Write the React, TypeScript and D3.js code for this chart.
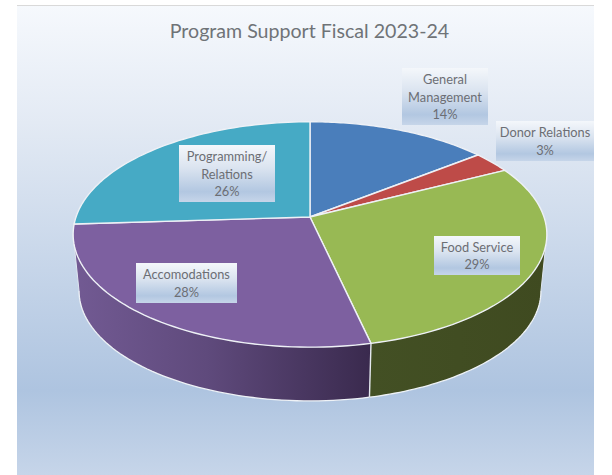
import React from "react";
import * as d3 from "d3";

const categories = ["General Management", "Donor Relations", "Food Service", "Accomodations", "Programming/ Relations"];
const shares = [14.4, 3.1, 28.95, 27.55, 26];
const faceColors = ["#4a7ebb", "#be4b48", "#98b954", "#7d60a0", "#46aac5"];
const labelLines = [["General", "Management"], ["Donor Relations"], ["Food Service"], ["Accomodations"], ["Programming/", "Relations"]];
const labelBoxes = [
  { x: 402, y: 68, w: 86, h: 57 },
  { x: 496, y: 121, w: 98, h: 40 },
  { x: 434, y: 236, w: 86, h: 39 },
  { x: 136, y: 263, w: 101, h: 40 },
  { x: 179, y: 145, w: 96, h: 57 },
];
const title = "Program Support Fiscal 2023-24";

const W = 612, H = 475;
const cx = 310, cy = 217, rx = 234, ry = 110, k = 0.155;
const depthDrop = 57, depthScale = 0.975;
const font = "Lato, 'Open Sans', sans-serif";

type P = [number, number];
const project = (a: number, bottom = false): P => {
  const s = 1 / (1 + k * Math.cos(a));
  const f = bottom ? depthScale : 1;
  return [cx + rx * Math.sin(a) * s * f, cy - ry * Math.cos(a) * s * f + (bottom ? depthDrop : 0)];
};
const arcPts = (a0: number, a1: number, bottom = false): P[] =>
  d3.range(0, 61).map((i) => project(a0 + ((a1 - a0) * i) / 60, bottom));
const line = d3.line<P>();

const arcs = d3.pie<number>().sort(null)(shares);
const pct = d3.format(".0%");
const total = d3.sum(shares);

// the points where the side wall's silhouette leaves the top face
const tangent = Math.acos(-k);
const frontStart = tangent;
const frontEnd = 2 * Math.PI - tangent;
const wallSlices = [2, 3];

export default function App() {
  return (
    <svg width={W} height={H} style={{ position: "absolute", left: 0, top: 0, display: "block" }}>
      <defs>
        <linearGradient id="bg" x1="0" y1="0" x2="0" y2="1">
          <stop offset="0" stopColor="#f6f9fd" />
          <stop offset="0.25" stopColor="#e3eaf4" />
          <stop offset="0.82" stopColor="#aec4e0" />
          <stop offset="1" stopColor="#c6d5e9" />
        </linearGradient>
        <linearGradient id="lab" x1="0" y1="0" x2="0" y2="1">
          <stop offset="0" stopColor="#f4f7fb" />
          <stop offset="0.4" stopColor="#dbe4f0" />
          <stop offset="0.82" stopColor="#b2c7e1" />
          <stop offset="1" stopColor="#c6d5e9" />
        </linearGradient>
        <linearGradient id="wallPurple" gradientUnits="userSpaceOnUse" x1="74" y1="0" x2="370" y2="0">
          <stop offset="0" stopColor="#725a93" />
          <stop offset="0.45" stopColor="#5f4a7c" />
          <stop offset="1" stopColor="#3a2a4e" />
        </linearGradient>
        <linearGradient id="wallGreen" gradientUnits="userSpaceOnUse" x1="370" y1="0" x2="547" y2="0">
          <stop offset="0" stopColor="#435024" />
          <stop offset="1" stopColor="#3f4a20" />
        </linearGradient>
      </defs>

      <rect x={17} y={5} width={577} height={470} fill="url(#bg)" />
      <line x1={17} x2={594} y1={5.5} y2={5.5} stroke="#d9d9d9" />
      <text x={309.5} y={38} textAnchor="middle" fontFamily={font} fontSize={19.6} fill="#6f7377">{title}</text>

      {wallSlices.map((i) => {
        const d = arcs[i];
        const a0 = Math.max(d.startAngle, frontStart);
        const a1 = Math.min(d.endAngle, frontEnd);
        const bot = arcPts(a0, a1, true);
        const fill = i === 2 ? "url(#wallGreen)" : "url(#wallPurple)";
        return (
          <g key={`w${i}`}>
            <path d={line([...arcPts(a0, a1), ...[...bot].reverse()])! + "Z"} fill={fill} />
            <path d={line(bot)!} fill="none" stroke="#eef2f6" strokeWidth={1.3} />
          </g>
        );
      })}
      {[arcs[3].startAngle, frontStart, frontEnd].map((a, i) => (
        <path
          key={i}
          d={line([project(a), project(a, true)])!}
          stroke={i === 0 ? "#e4e8ee" : "#dfe6f0"}
          strokeWidth={i === 0 ? 1.4 : 1}
          fill="none"
        />
      ))}

      {arcs.map((d, i) => (
        <path
          key={`f${i}`}
          d={line([[cx, cy], ...arcPts(d.startAngle, d.endAngle)])! + "Z"}
          fill={faceColors[i]}
          stroke="#eef1f6"
          strokeWidth={1.4}
          strokeLinejoin="round"
        />
      ))}

      {categories.map((c, i) => {
        const b = labelBoxes[i];
        const rows = [...labelLines[i], pct(shares[i] / total)];
        const lh = 17.3;
        return (
          <g key={c}>
            <rect x={b.x} y={b.y} width={b.w} height={b.h} fill="url(#lab)" />
            {rows.map((t, j) => (
              <text
                key={j}
                x={b.x + b.w / 2}
                y={b.y + b.h / 2 + (j - (rows.length - 1) / 2) * lh + 5}
                textAnchor="middle"
                fontFamily={font}
                fontSize={12.8}
                fill="#6c6e74"
              >
                {t}
              </text>
            ))}
          </g>
        );
      })}
    </svg>
  );
}
